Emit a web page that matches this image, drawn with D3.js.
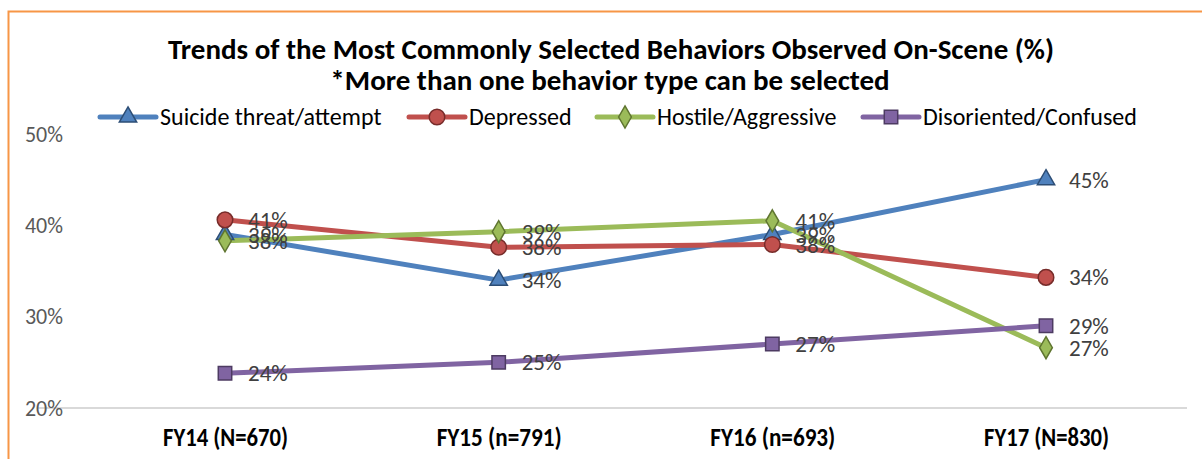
<!DOCTYPE html>
<html>
<head>
<meta charset="utf-8">
<script src="https://cdn.jsdelivr.net/npm/d3@7"></script>
<style>
  body { margin: 0; background: #fff; }
  text { font-family: Carlito, Calibri, Lato, "Open Sans", sans-serif; }
</style>
</head>
<body>
<svg id="chart"></svg>
<script>
// data
const years = ["FY14 (N=670)", "FY15 (n=791)", "FY16 (n=693)", "FY17 (N=830)"];
const suicide = [39, 34, 39, 45];
const depressed = [40.6, 37.6, 37.9, 34.3];
const hostile = [38.3, 39.3, 40.5, 26.6];
const disoriented = [23.8, 25.0, 27.0, 29.0];
const seriesNames = ["Suicide threat/attempt", "Depressed", "Hostile/Aggressive", "Disoriented/Confused"];
const yTicks = [20, 30, 40, 50];

const width = 1202, height = 459;
const margin = { top: 134, bottom: 51, left: 88, right: 20 };

const series = [
  { name: seriesNames[0], values: suicide, color: "#4f81bd", dark: "#2c4d75", shape: d3.symbolTriangle },
  { name: seriesNames[1], values: depressed, color: "#c0504d", dark: "#772c2a", shape: d3.symbolCircle },
  { name: seriesNames[2], values: hostile, color: "#9bbb59", dark: "#5f7530", shape: d3.symbolDiamond },
  { name: seriesNames[3], values: disoriented, color: "#8064a2", dark: "#4d3b62", shape: d3.symbolSquare },
];

let svg = d3.select("#chart").attr("width", width).attr("height", height);

// orange frame (left and top only visible)
svg.append("path")
  .attr("d", `M8.5,${height} L8.5,11.5 L${width},11.5`)
  .attr("fill", "none")
  .attr("stroke", "#f79646")
  .attr("stroke-width", 2);

let xScale = d3.scalePoint()
  .domain(years)
  .range([225, 1046]);

let yScale = d3.scaleLinear()
  .domain([20, 50])
  .range([height - margin.bottom, margin.top]);

// baseline
svg.append("line")
  .attr("x1", 37).attr("x2", 1187)
  .attr("y1", yScale(20)).attr("y2", yScale(20))
  .attr("stroke", "#d9d9d9")
  .attr("stroke-width", 2);

// y axis labels
svg.append("g")
  .attr("transform", `translate(63, 0)`)
  .call(d3.axisLeft(yScale).tickValues(yTicks).tickSize(0).tickPadding(0).tickFormat((d) => d + "%"))
  .call((g) => g.select(".domain").remove())
  .selectAll("text")
  .attr("font-size", "22px")
  .attr("fill", "#595959")
  .attr("font-family", "Carlito, Calibri, Lato, sans-serif");

// x axis labels (condensed like the original)
svg.append("g")
  .attr("transform", `translate(0, ${yScale(20)})`)
  .call(d3.axisBottom(xScale).tickSize(0).tickPadding(20))
  .call((g) => g.select(".domain").remove())
  .selectAll("text")
  .attr("font-size", "26px")
  .attr("font-weight", "bold")
  .attr("fill", "#000")
  .attr("font-family", "Carlito, Calibri, Lato, sans-serif")
  .attr("textLength", 125)
  .attr("lengthAdjust", "spacingAndGlyphs");

// title
let title = svg.append("text")
  .attr("text-anchor", "middle")
  .attr("font-size", "29px")
  .attr("font-weight", "bold")
  .attr("fill", "#000");
title.append("tspan").attr("x", 611).attr("y", 59)
  .text("Trends of the Most Commonly Selected Behaviors Observed On-Scene (%)");
title.append("tspan").attr("x", 610).attr("y", 90)
  .text("*More than one behavior type can be selected");

let line = d3.line()
  .x((d, i) => xScale(years[i]))
  .y((d) => yScale(d));

function symbolSize(shape) {
  if (shape === d3.symbolTriangle) return 130;
  if (shape === d3.symbolDiamond) return 140;
  if (shape === d3.symbolSquare) return 180;
  return 190;
}

// lines
svg.selectAll(".series-line")
  .data(series)
  .enter()
  .append("path")
  .attr("class", "series-line")
  .attr("d", (d) => line(d.values))
  .attr("fill", "none")
  .attr("stroke", (d) => d.color)
  .attr("stroke-width", 5)
  .attr("stroke-linejoin", "round");

// markers
series.forEach(function (s) {
  svg.selectAll(null)
    .data(s.values)
    .enter()
    .append("path")
    .attr("d", d3.symbol().type(s.shape).size(symbolSize(s.shape)))
    .attr("transform", (d, i) => `translate(${xScale(years[i])}, ${yScale(d)})`)
    .attr("fill", s.color)
    .attr("stroke", s.dark)
    .attr("stroke-width", 1.5);
});

// value labels
series.forEach(function (s) {
  svg.selectAll(null)
    .data(s.values)
    .enter()
    .append("text")
    .attr("x", (d, i) => xScale(years[i]) + 23)
    .attr("y", (d) => yScale(d))
    .attr("dy", "0.35em")
    .attr("font-size", "23px")
    .attr("fill", "#404040")
    .text((d) => `${Math.round(d)}%`);
});

// legend
const legendX = [100, 409, 597, 863];
let legend = svg.selectAll(".legend")
  .data(series)
  .enter()
  .append("g")
  .attr("class", "legend")
  .attr("transform", (d, i) => `translate(${legendX[i]}, 117)`);

legend.append("line")
  .attr("x1", 0).attr("x2", 56)
  .attr("stroke", (d) => d.color)
  .attr("stroke-width", 5)
  .attr("stroke-linecap", "round");

legend.append("path")
  .attr("d", (d) => d3.symbol().type(d.shape).size(symbolSize(d.shape))())
  .attr("transform", "translate(28, 0)")
  .attr("fill", (d) => d.color)
  .attr("stroke", (d) => d.dark)
  .attr("stroke-width", 1.5);

legend.append("text")
  .attr("x", 60)
  .attr("dy", "0.35em")
  .attr("font-size", "24px")
  .attr("fill", "#000")
  .text((d) => d.name);
</script>
</body>
</html>
